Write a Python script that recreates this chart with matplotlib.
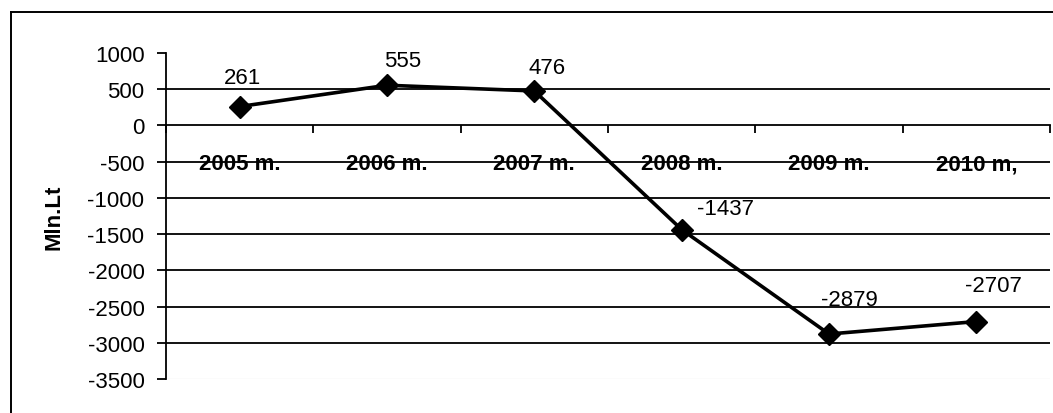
import matplotlib.pyplot as plt
from matplotlib.lines import Line2D
from matplotlib.ticker import FixedLocator, NullFormatter

years = ["2005 m.", "2006 m.", "2007 m.", "2008 m.", "2009 m.", "2010 m,"]
values = [261, 555, 476, -1437, -2879, -2707]
y_ticks = [1000, 500, 0, -500, -1000, -1500, -2000, -2500, -3000, -3500]

# label offsets in pixels (manually placed in the original)
label_offsets = [(3, 29), (16, 25), (13, 23), (44, 21), (20, 35), (17, 36)]

plt.rcParams['font.family'] = ['Liberation Sans', 'DejaVu Sans']
W, H = 1053, 414
FS = 16
fig = plt.figure(figsize=(W / 100, H / 100), dpi=100)
ax = fig.add_axes([166 / W, 1 - 380 / H, (1050 - 166) / W, (380 - 54) / H])

x = list(range(len(years)))
ax.set_xlim(-0.5, len(years) - 0.5)
ax.set_ylim(-3500, 1000)

# grid lines (none at top value), light plot border at bottom
for v in y_ticks[1:-1]:
    if v != 0:
        ax.axhline(v, color='black', linewidth=1.3, zorder=1)
ax.axhline(-3500, color='#eeeeee', linewidth=1.0, zorder=1)

ax.plot(x, values, color='black', linewidth=2.6, marker='D', markersize=11, zorder=3)

for xi, v, (dx, dy) in zip(x, values, label_offsets):
    ax.annotate(str(v), (xi, v), xytext=(dx, dy), textcoords='offset pixels',
                ha='center', va='center', fontsize=FS, zorder=4)

for s in ['top', 'right']:
    ax.spines[s].set_visible(False)
ax.spines['bottom'].set_position(('data', 0))
ax.spines['bottom'].set_linewidth(1.3)
ax.spines['left'].set_linewidth(1.3)

ax.set_yticks(y_ticks)
ax.set_yticklabels([str(v) for v in y_ticks])
ax.tick_params(axis='y', direction='out', length=6.5, width=1.3, pad=9, labelsize=FS)

# major ticks at category boundaries, labels at centres
ax.xaxis.set_major_locator(FixedLocator([i - 0.5 for i in range(len(years) + 1)]))
ax.xaxis.set_major_formatter(NullFormatter())
ax.xaxis.set_minor_locator(FixedLocator(x))
ax.set_xticklabels(years, minor=True, fontweight='bold')
ax.tick_params(axis='x', which='major', direction='out', length=6, width=1.3)
ax.tick_params(axis='x', which='minor', length=0, pad=20, labelsize=FS)

ax.set_ylabel("Mln.Lt", fontsize=FS, fontweight='bold', va='center')
ax.yaxis.set_label_coords((54 - 166) / (1050 - 166), 0.5)

# outer chart border (bottom and right are outside the picture)
fig.add_artist(Line2D([10.5 / W, 1.01], [1 - 12.5 / H] * 2, color='black', linewidth=1.4,
                      transform=fig.transFigure))
fig.add_artist(Line2D([10.5 / W] * 2, [1 - 12.5 / H, -0.01], color='black', linewidth=1.4,
                      transform=fig.transFigure))

fig.savefig("out.png", dpi=100)
